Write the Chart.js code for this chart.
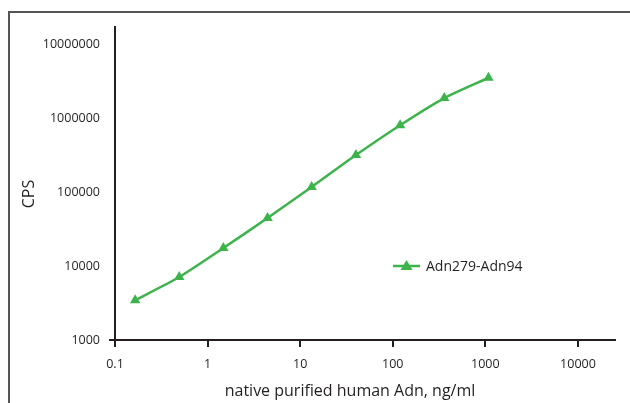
<!DOCTYPE html>
<html>
<head>
<meta charset="utf-8">
<script src="https://cdn.jsdelivr.net/npm/chart.js@4.4.1/dist/chart.umd.min.js"></script>
<style>
  body { margin: 0; background: #fff; }
</style>
</head>
<body>
<canvas id="myChart" width="630" height="403"></canvas>
<script>
// concentration (ng/ml) and signal (CPS)
const concentrations = [0.165, 0.494, 1.48, 4.44, 13.3, 40, 120, 360, 1080];
const cps = [3450, 7100, 17500, 44500, 117000, 316000, 800000, 1860000, 3500000];

const xTicks = [0.1, 1, 10, 100, 1000, 10000];
const xTickLabels = ["0.1", "1", "10", "100", "1000", "10000"];
const yTicks = [1000, 10000, 100000, 1000000, 10000000];
const yTickLabels = ["1000", "10000", "100000", "1000000", "10000000"];

const seriesName = "Adn279-Adn94";
const xTitle = "native purified human Adn, ng/ml";
const yTitle = "CPS";

const green = "#3db44b";
const ink = "#231f20";
const fontFamily = "'Open Sans', sans-serif";

const ctx = document.getElementById('myChart');

// frame, axis titles and the small legend inside the plot
const extras = {
  id: 'extras',
  beforeDraw(chart) {
    const c = chart.ctx;
    c.save();
    c.strokeStyle = "#555";
    c.lineWidth = 2;
    c.strokeRect(9, 12, 1000, 1000);
    c.restore();
  },
  afterDraw(chart) {
    const c = chart.ctx;
    c.save();
    c.fillStyle = ink;
    c.font = "16px " + fontFamily;
    c.textAlign = "center";
    c.textBaseline = "middle";
    c.fillText(xTitle, 350, 391);

    c.translate(29, 194);
    c.rotate(-Math.PI / 2);
    c.fillText(yTitle, 0, 0);
    c.restore();

    // legend
    const lx = 393, ly = 266;
    c.save();
    c.strokeStyle = green;
    c.lineWidth = 2.5;
    c.beginPath();
    c.moveTo(lx, ly);
    c.lineTo(lx + 27, ly);
    c.stroke();
    c.fillStyle = green;
    c.beginPath();
    c.moveTo(lx + 13.5, ly - 6);
    c.lineTo(lx + 19.5, ly + 4);
    c.lineTo(lx + 7.5, ly + 4);
    c.closePath();
    c.fill();
    c.fillStyle = ink;
    c.font = "14px " + fontFamily;
    c.textAlign = "left";
    c.textBaseline = "middle";
    c.fillText(seriesName, lx + 33, ly + 1);
    c.restore();
  }
};

new Chart(ctx, {
  type: "scatter",
  data: {
    datasets: [
      {
        label: seriesName,
        data: concentrations.map((x, i) => ({ x: x, y: cps[i] })),
        showLine: true,
        borderColor: green,
        backgroundColor: green,
        borderWidth: 2.5,
        tension: 0.25,
        pointStyle: "triangle",
        pointRadius: 6,
        pointHoverRadius: 6,
        pointBorderWidth: 0
      }
    ]
  },
  options: {
    responsive: false,
    animation: false,
    layout: {
      padding: { top: 27, right: 15, left: 0, bottom: 0 }
    },
    plugins: {
      legend: { display: false },
      tooltip: { enabled: false }
    },
    scales: {
      x: {
        type: "logarithmic",
        min: 0.1,
        max: Math.pow(10, 4.4),
        afterBuildTicks: (scale) => {
          scale.ticks = xTicks.map(v => ({ value: v }));
        },
        afterFit: (scale) => { scale.height = 63; },
        ticks: {
          callback: (value) => {
            const i = xTicks.indexOf(value);
            return i >= 0 ? xTickLabels[i] : "";
          },
          color: ink,
          font: { family: fontFamily, size: 12.5 },
          padding: 10,
          maxRotation: 0,
          autoSkip: false
        },
        grid: {
          drawOnChartArea: false,
          drawTicks: true,
          tickLength: 7,
          color: ink,
          lineWidth: 2
        },
        border: { color: ink, width: 2 }
      },
      y: {
        type: "logarithmic",
        min: 1000,
        max: Math.pow(10, 7.23),
        afterBuildTicks: (scale) => {
          scale.ticks = yTicks.map(v => ({ value: v }));
        },
        afterFit: (scale) => { scale.width = 115; },
        ticks: {
          callback: (value) => {
            const i = yTicks.indexOf(value);
            return i >= 0 ? yTickLabels[i] : "";
          },
          color: ink,
          font: { family: fontFamily, size: 12.5 },
          padding: 9,
          autoSkip: false
        },
        grid: {
          drawOnChartArea: false,
          drawTicks: true,
          tickLength: 6,
          lineWidth: 2,
          color: (context) => context.tick && context.tick.value === 1000 ? ink : "rgba(0,0,0,0)"
        },
        border: { color: ink, width: 2 }
      }
    }
  },
  plugins: [extras]
});
</script>
</body>
</html>
